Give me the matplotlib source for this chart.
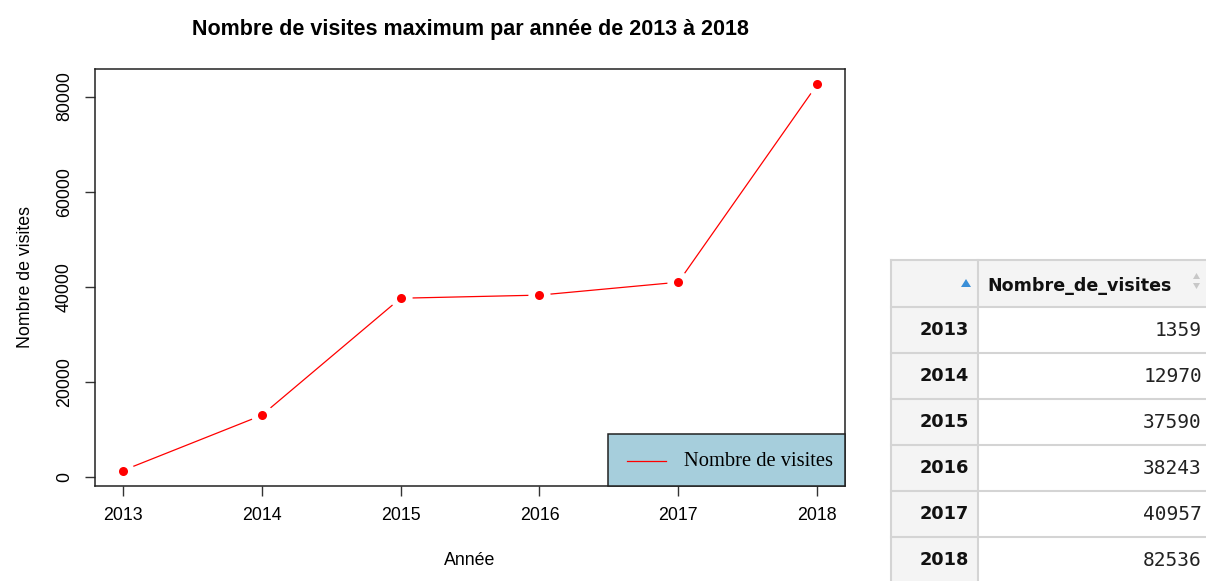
import matplotlib
matplotlib.use("Agg")
import matplotlib.pyplot as plt
from matplotlib.patches import Rectangle, Polygon

# --- data ---
annees = [2013, 2014, 2015, 2016, 2017, 2018]
visites = [1359, 12970, 37590, 38243, 40957, 82536]
y_ticks = [0, 20000, 40000, 60000, 80000]

W, H = 1206, 581
fig = plt.figure(figsize=(W / 100, H / 100), dpi=100)
plt.rcParams["font.family"] = ["Liberation Sans", "DejaVu Sans"]

# --- R-style line chart ---
ax = fig.add_axes([95 / W, 1 - 486 / H, 750 / W, 417 / H])
ax.plot(annees, visites, color="red", lw=0.9, zorder=2)
ax.plot(annees, visites, ls="none", marker="o", ms=6.5, color="red",
        markeredgewidth=0, zorder=4)
# white halo around points to imitate type="b" gaps
ax.plot(annees, visites, ls="none", marker="o", ms=16, color="white",
        markeredgewidth=0, zorder=3)
rng = max(visites) - min(visites)
ax.set_ylim(min(visites) - 0.04 * rng, max(visites) + 0.04 * rng)
ax.set_xlim(annees[0] - 0.04 * 5, annees[-1] + 0.04 * 5)
ax.set_xticks(annees)
ax.set_yticks(y_ticks)
ax.set_yticklabels([str(v) for v in y_ticks], rotation=90, va="center")
ax.tick_params(direction="out", length=7, width=1, labelsize=12.8,
               color="#333333", pad=8)
ax.tick_params(axis="y", pad=9)
for s in ax.spines.values():
    s.set_linewidth(1.1)
    s.set_color("#222222")
ax.set_xlabel("Année", fontsize=12.8, labelpad=20)
ax.set_ylabel("Nombre de visites", fontsize=12.8, labelpad=16)
fig.text(470 / W, 1 - 30 / H, "Nombre de visites maximum par année de 2013 à 2018",
         ha="center", va="center", fontsize=15.5, fontweight="bold")

# legend box (bottom right, R legend look)
lx0, ly0, lx1, ly1 = 608, 434, 845, 486
fig.patches.append(Rectangle((lx0 / W, 1 - ly1 / H), (lx1 - lx0) / W, (ly1 - ly0) / H,
                             transform=fig.transFigure, facecolor="#a6cedc",
                             edgecolor="#222222", lw=1.1, zorder=5))
fig.lines.append(plt.Line2D([627 / W, 666 / W], [1 - 461 / H] * 2,
                            transform=fig.transFigure, color="red", lw=0.9, zorder=6))
fig.text(684 / W, 1 - 461 / H, "Nombre de visites", ha="left", va="center",
         fontsize=14.8, family=["Liberation Serif", "DejaVu Serif"], zorder=7)

# --- RStudio-like table ---
tx0, tx1, tx2 = 891, 978, 1206
row_tops = [260, 307, 353, 399, 445, 491, 537]
row_h = 46
grid = "#d4d4d4"
# header background
fig.patches.append(Rectangle((tx0 / W, 1 - 307 / H), (tx2 - tx0) / W, 47 / H,
                             transform=fig.transFigure, facecolor="#f4f4f4",
                             edgecolor="none"))
# row-name column background
fig.patches.append(Rectangle((tx0 / W, 0), (tx1 - tx0) / W, (1 - 307 / H),
                             transform=fig.transFigure, facecolor="#f4f4f4",
                             edgecolor="none"))
for y in row_tops:
    fig.lines.append(plt.Line2D([tx0 / W, 1], [1 - y / H] * 2,
                                transform=fig.transFigure, color=grid, lw=1.5))
fig.lines.append(plt.Line2D([tx0 / W] * 2, [0, 1 - 260 / H],
                            transform=fig.transFigure, color=grid, lw=1.5))
fig.lines.append(plt.Line2D([tx1 / W] * 2, [0, 1 - 260 / H],
                            transform=fig.transFigure, color=grid, lw=1.5))
fig.text(987 / W, 1 - 286 / H, "Nombre_de_visites", ha="left", va="center",
         fontsize=12.6, fontweight="bold", family="DejaVu Sans", color="#111111")
# sort arrow (blue) and grey arrows
fig.patches.append(Polygon([[961 / W, 1 - 287 / H], [971 / W, 1 - 287 / H],
                            [966 / W, 1 - 279 / H]], closed=True,
                           transform=fig.transFigure, facecolor="#3a8fd8",
                           edgecolor="none"))
fig.patches.append(Polygon([[1193 / W, 1 - 279 / H], [1200 / W, 1 - 279 / H],
                            [1196.5 / W, 1 - 273 / H]], closed=True,
                           transform=fig.transFigure, facecolor="#c8c8c8",
                           edgecolor="none"))
fig.patches.append(Polygon([[1193 / W, 1 - 283 / H], [1200 / W, 1 - 283 / H],
                            [1196.5 / W, 1 - 289 / H]], closed=True,
                           transform=fig.transFigure, facecolor="#c8c8c8",
                           edgecolor="none"))
for i, (a, v) in enumerate(zip(annees, visites)):
    yc = row_tops[i + 1] + row_h / 2
    fig.text(969 / W, 1 - yc / H, str(a), ha="right", va="center", fontsize=12.8,
             fontweight="bold", family="DejaVu Sans", color="#111111")
    fig.text(1202 / W, 1 - yc / H, str(v), ha="right", va="center", fontsize=14,
             family="DejaVu Sans Mono", color="#222222")

fig.savefig("out.png", dpi=100, facecolor="white")
